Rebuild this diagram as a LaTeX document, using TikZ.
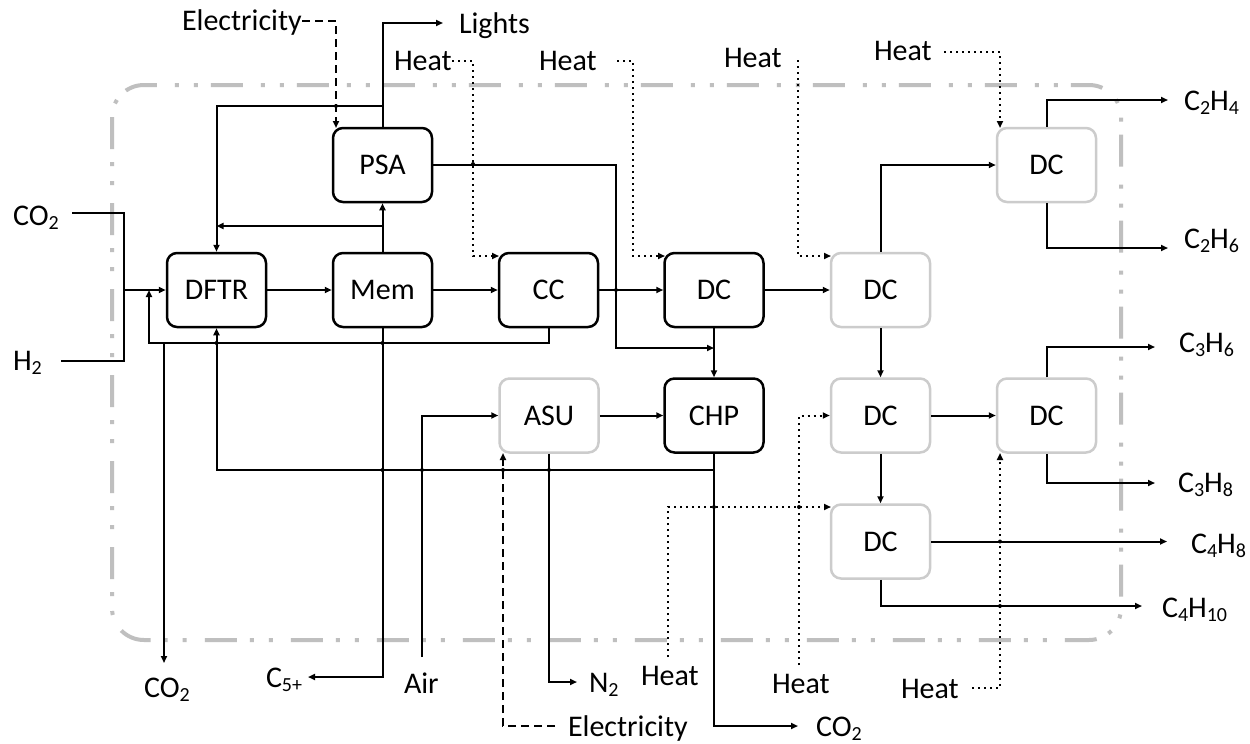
\documentclass[tikz,border=0pt]{standalone}
\usepackage{fontspec}
\setmainfont{Carlito}
\usetikzlibrary{arrows.meta}
\newcommand\sbs[1]{\raisebox{-4pt}{\fontsize{20}{20}\selectfont #1}}
\begin{document}
\begin{tikzpicture}[x=1pt,y=-1pt,
  font=\fontsize{30}{36}\selectfont,
  line width=2pt,
  arr/.style={-{Triangle[length=7pt,width=6pt]}},
  dotarr/.style={arr, dash pattern=on 2pt off 4pt},
  dasharr/.style={arr, dash pattern=on 8pt off 5pt},
  boxbase/.style={rectangle, rounded corners=10pt, minimum width=99pt, minimum height=74pt, inner sep=0pt, line width=2.5pt, fill=white},
  bbox/.style={boxbase, draw=black},
  gbox/.style={boxbase, draw=gray!40},
  lbl/.style={anchor=base west, inner sep=0pt},
  boundary/.style={draw=gray!50, line width=4pt, rounded corners=32pt, dash pattern=on 32pt off 13pt on 4pt off 15pt on 4pt off 18pt}
]
\useasboundingbox (0,0) rectangle (1250,744);
\fill[white] (0,0) rectangle (1250,744);

% system boundary
\draw[boundary] (112,85) rectangle (1121,640);

% units
\node[bbox] (dftr) at (216.5,290) {DFTR};
\node[bbox] (mem)  at (382.5,290) {Mem};
\node[bbox] (psa)  at (382.5,165) {PSA};
\node[bbox] (cc)   at (548.5,290) {CC};
\node[bbox] (dc1)  at (714,290) {DC};
\node[gbox] (dc2)  at (880.5,290) {DC};
\node[gbox] (dc3)  at (1046.5,165) {DC};
\node[gbox] (asu)  at (549,415.5) {ASU};
\node[bbox] (chp)  at (714,415.5) {CHP};
\node[gbox] (dc4)  at (880.5,415.5) {DC};
\node[gbox] (dc5)  at (1046.5,415.5) {DC};
\node[gbox] (dc6)  at (880.5,541.5) {DC};

% labels
\node[lbl] (elT)   at (181,30)  {Electricity};
\node[lbl] (lights) at (458,33) {Lights};
\node[lbl] (heat1) at (393,70)  {Heat};
\node[lbl] (heat2) at (538,70)  {Heat};
\node[lbl] (heat3) at (723,67)  {Heat};
\node[lbl] (heat4) at (873,60)  {Heat};
\node[lbl] (c2h4)  at (1183,110) {C\sbs{2}H\sbs{4}};
\node[lbl] (c2h6)  at (1183,248) {C\sbs{2}H\sbs{6}};
\node[lbl] (c3h6)  at (1178,352) {C\sbs{3}H\sbs{6}};
\node[lbl] (c3h8)  at (1177,492) {C\sbs{3}H\sbs{8}};
\node[lbl] (c4h8)  at (1190,553) {C\sbs{4}H\sbs{8}};
\node[lbl] (c4h10) at (1161,617) {C\sbs{4}H\sbs{10}};
\node[lbl] (heat7) at (900,698) {Heat};
\node[lbl] (heat6) at (771,693) {Heat};
\node[lbl] (heat5) at (640,685) {Heat};
\node[lbl] (n2)    at (588,692) {N\sbs{2}};
\node[lbl] (elB)   at (567,736) {Electricity};
\node[lbl] (co2B)  at (815,736) {CO\sbs{2}};
\node[lbl] (air)   at (403,693) {Air};
\node[lbl] (c5)    at (265,687) {C\sbs{5+}};
\node[lbl] (co2L)  at (143,697) {CO\sbs{2}};
\node[lbl] (co2in) at (12,225)  {CO\sbs{2}};
\node[lbl] (h2)    at (12,370)  {H\sbs{2}};

% coordinates
\coordinate (co2inE) at (72,213);
\coordinate (h2E) at (61,361);
\coordinate (mix) at (124,290);
\coordinate (recL) at (149,343);
\coordinate (rec) at (149,290);
\coordinate (purge) at (164,343);
\coordinate (co2Lt) at (164,663);
\coordinate (j226) at (382.5,226);
\coordinate (j226w) at (216.5,226);
\coordinate (lightsA) at (443,23);
\coordinate (j106) at (382.5,106);
\coordinate (elTs) at (302,21);
\coordinate (elTe) at (336,128);
\coordinate (p1) at (616,348);
\coordinate (airT) at (422,657);
\coordinate (n2A) at (577,682);
\coordinate (elBs) at (555,726);
\coordinate (elBe) at (503,453);
\coordinate (co2Ba) at (798,726);
\coordinate (j470) at (714,470);
\coordinate (c5A) at (308,677);
\coordinate (c2h4A) at (1168,100);
\coordinate (c2h6A) at (1168,248);
\coordinate (c3h6A) at (1155,347);
\coordinate (c3h8A) at (1155,483);
\coordinate (c4h8A) at (1167,541.5);
\coordinate (c4h10A) at (1142,606);
\coordinate (h1s) at (452,61);
\coordinate (h1c) at (473,256);
\coordinate (h1e) at (499,256);
\coordinate (h2s) at (617,61);
\coordinate (h2c) at (633,256);
\coordinate (h2e) at (665,256);
\coordinate (h3s) at (798,60);
\coordinate (h3c) at (798,256);
\coordinate (h3e) at (831,256);
\coordinate (h4s) at (944,52);
\coordinate (h4e) at (1000,128);
\coordinate (h5s) at (668,657);
\coordinate (h5e) at (831,507);
\coordinate (h6s) at (799,665);
\coordinate (h7s) at (972,688);
\coordinate (h7e) at (1000,453);

% feed
\draw (co2inE) -| (mix) |- (h2E);
\draw[arr] (mix) -- (dftr.west);
% main train
\draw[arr] (dftr.east) -- (mem.west);
\draw[arr] (mem.east) -- (cc.west);
\draw[arr] (cc.east) -- (dc1.west);
\draw[arr] (dc1.east) -- (dc2.west);
% recycle from CC
\draw[arr] (cc.south) |- (recL) -- (rec);
\draw[arr] (purge) -- (co2Lt);
% Mem / PSA
\draw[arr] (mem.north) -- (psa.south);
\draw[arr] (j226) -- (j226w);
\draw[arr] (psa.north) |- (lightsA);
\draw[arr] (j106) -| (dftr.north);
\draw[dasharr] (elTs) -| (elTe);
\draw[arr] (psa.east) -| (p1) -- (dc1.south |- p1);
\draw[arr] (mem.south) |- (c5A);
% CHP / ASU
\draw[arr] (dc1.south) -- (chp.north);
\draw[arr] (asu.east) -- (chp.west);
\draw[arr] (airT) |- (asu.west);
\draw[arr] (asu.south) |- (n2A);
\draw[dasharr] (elBs) -| (elBe);
\draw[arr] (chp.south) |- (co2Ba);
\draw[arr] (j470) -| (dftr.south);
% distillation
\draw[arr] (dc2.north) |- (dc3.west);
\draw[arr] (dc2.south) -- (dc4.north);
\draw[arr] (dc4.south) -- (dc6.north);
\draw[arr] (dc4.east) -- (dc5.west);
\draw[arr] (dc3.north) |- (c2h4A);
\draw[arr] (dc3.south) |- (c2h6A);
\draw[arr] (dc5.north) |- (c3h6A);
\draw[arr] (dc5.south) |- (c3h8A);
\draw[arr] (dc6.east) -- (c4h8A);
\draw[arr] (dc6.south) |- (c4h10A);
% heat
\draw[dotarr] (h1s) -| (h1c) -- (h1e);
\draw[dotarr] (h2s) -| (h2c) -- (h2e);
\draw[dotarr] (h3s) -- (h3c) -- (h3e);
\draw[dotarr] (h4s) -| (h4e);
\draw[dotarr] (h5s) |- (h5e);
\draw[dotarr] (h6s) |- (dc4.west);
\draw[dotarr] (h7s) -| (h7e);

% crossing dots
\foreach \p in {(336,106),(473,164),(616,290),(382.5,343),(216.5,343),(382.5,470),(422,470),(503,470),(549,470),(714,507),(799,507),(1000,541.5),(1000,606)}
  \fill \p circle (2pt);
\end{tikzpicture}
\end{document}
